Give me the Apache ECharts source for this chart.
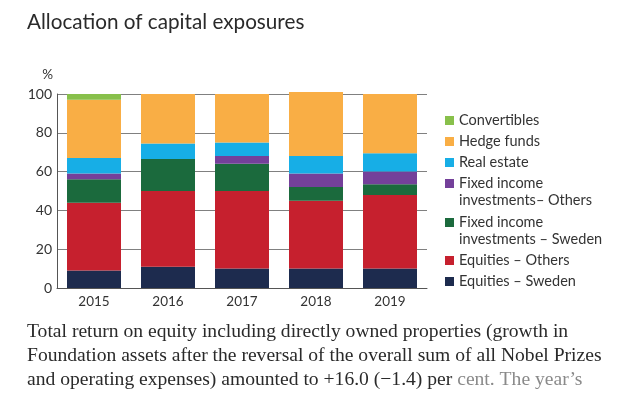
<!DOCTYPE html>
<html><head><meta charset="utf-8">
<script src="https://cdn.jsdelivr.net/npm/echarts@6/dist/echarts.min.js"></script>
<style>html,body{margin:0;padding:0;background:#fff}#c{width:640px;height:394px}</style>
</head><body><div id="c"></div>
<script>
const categories = ['2015','2016','2017','2018','2019'];
const equitiesSweden = [9, 11, 10, 10, 10];
const equitiesOthers = [35, 39, 40, 35, 38];
const fixedSweden = [12, 16.5, 14, 7, 5.5];
const fixedOthers = [3, 0, 4, 7, 6.5];
const realEstate = [8, 8, 7, 9, 9.5];
const hedgeFunds = [30, 25.5, 25, 33, 30.5];
const convertibles = [3, 0, 0, 0, 0];
const yTicks = [0, 20, 40, 60, 80, 100];
const legendNames = ['Convertibles','Hedge funds','Real estate','Fixed income\ninvestments– Others','Fixed income\ninvestments – Sweden','Equities – Others','Equities – Sweden'];

const colors = {
  'Equities – Sweden':'#1d2b4e',
  'Equities – Others':'#c6202e',
  'Fixed income\ninvestments – Sweden':'#1b6a3d',
  'Fixed income\ninvestments– Others':'#74409a',
  'Real estate':'#17aee6',
  'Hedge funds':'#f9ae45',
  'Convertibles':'#88c04b'
};
const seriesData = [
  ['Equities – Sweden', equitiesSweden],
  ['Equities – Others', equitiesOthers],
  ['Fixed income\ninvestments – Sweden', fixedSweden],
  ['Fixed income\ninvestments– Others', fixedOthers],
  ['Real estate', realEstate],
  ['Hedge funds', hedgeFunds],
  ['Convertibles', convertibles]
];
const sans = 'Lato, "Open Sans", sans-serif';
const serif = '"Liberation Serif", serif';
const legendIconTops = [116, 137, 158, 179, 218, 256, 277];
const legends = legendNames.map((n, i) => {
  const two = n.indexOf('\n') >= 0;
  return {
    data: [n], left: 445, top: legendIconTops[i] - (two ? 21 : 4), padding: 0,
    orient: 'vertical', itemWidth: 9, itemHeight: 9, itemGap: 4, icon: 'rect',
    selectedMode: false,
    formatter: name => two ? '\n' + name : name,
    textStyle: {fontFamily: sans, fontSize: 14.5, color: '#333', lineHeight: 17}
  };
});

const chart = echarts.init(document.getElementById('c'));
chart.setOption({
  animation: false,
  title: {text: 'Allocation of capital exposures', left: 22, top: 7,
    textStyle: {fontFamily: sans, fontSize: 20.7, fontWeight: 'normal', color: '#2a2a2a'}},
  legend: legends,
  grid: {left: 57, right: 213, top: 94, bottom: 106},
  xAxis: {type: 'category', data: categories,
    axisLine: {lineStyle: {color: '#555', width: 1}}, axisTick: {show: false},
    axisLabel: {fontFamily: sans, fontSize: 13.5, color: '#333', margin: 7}},
  yAxis: {type: 'value', min: 0, max: 100, interval: 20, name: '%',
    nameLocation: 'end', nameGap: 12, nameTextStyle: {fontFamily: sans, fontSize: 13.5, color: '#333', align: 'right', padding: [0, 4, 0, 0]},
    axisLine: {show: true, lineStyle: {color: '#555', width: 1}}, axisTick: {show: false},
    axisLabel: {fontFamily: sans, fontSize: 14, color: '#333', margin: 5,
      formatter: v => yTicks.includes(v) ? String(v) : ''},
    splitLine: {lineStyle: {color: '#808080', width: 1}}},
  series: seriesData.map(([name, vals]) => ({
    name, type: 'bar', stack: 'all', data: vals, barWidth: 54, clip: false,
    itemStyle: {color: colors[name]}
  })),
  graphic: [
    {type: 'text', left: 27, top: 322, style: {text: 'Total return on equity including directly owned properties (growth in', font: '19.6px ' + serif, fill: '#2a2a2a'}},
    {type: 'text', left: 27, top: 346, style: {text: 'Foundation assets after the reversal of the overall sum of all Nobel Prizes', font: '19.6px ' + serif, fill: '#2a2a2a'}},
    {type: 'text', left: 27, top: 370, style: {text: 'and operating expenses) amounted to +16.0 (\u22121.4) per {l|cent. The year\u2019s}', font: '19.6px ' + serif, fill: '#2a2a2a',
      rich: {l: {font: '19.6px ' + serif, fill: '#8a8a8a'}}}}
  ]
});
</script></body></html>
